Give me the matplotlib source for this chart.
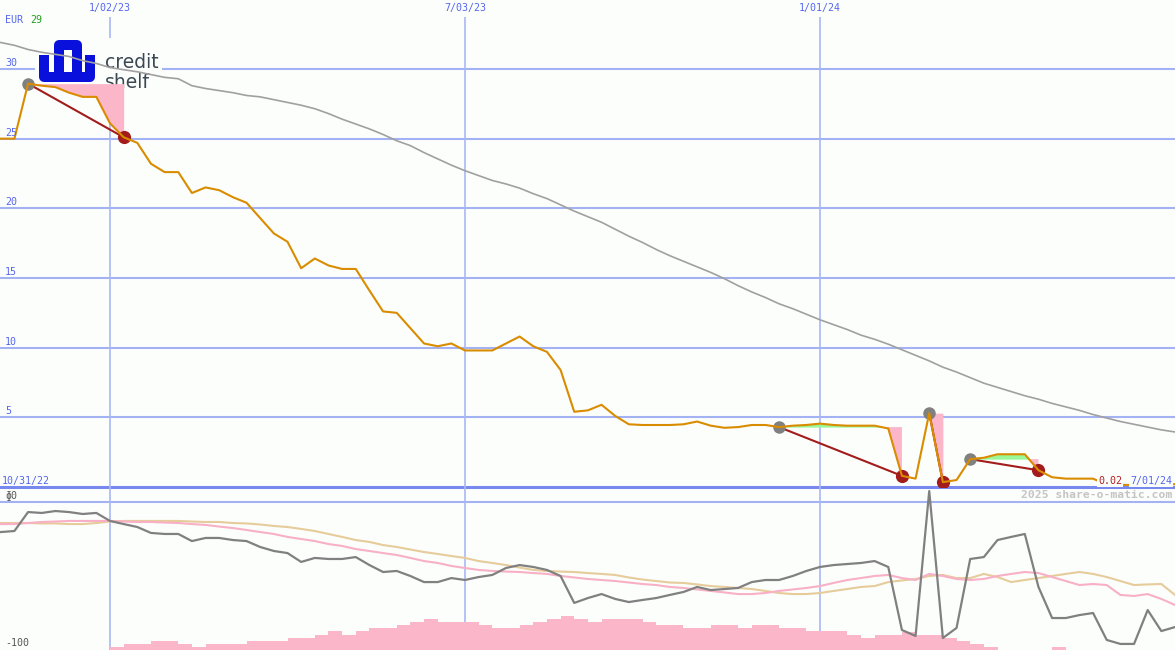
import matplotlib
matplotlib.use('Agg')
import matplotlib.pyplot as plt
import matplotlib.dates as mdates
import matplotlib.transforms as mtrans
from matplotlib.patches import Rectangle
from matplotlib.lines import Line2D
import numpy as np
import pandas as pd

W, H = 1175, 650

# ---------------- data ----------------
dates = pd.date_range('2022-10-31', periods=88, freq='7D')

price = [25, 25, 25, 28.95, 28.8, 28.7, 28.3, 28.0, 28.0, 26.1,
         25.1, 24.7, 23.2, 22.6, 22.6, 21.1, 21.5, 21.3, 20.8, 20.4,
         19.3, 18.2, 17.6, 15.7, 16.4, 15.9, 15.65, 15.65, 14.1, 12.6,
         12.5, 11.4, 10.3, 10.1, 10.3, 9.8, 9.8, 9.8, 10.3, 10.8,
         10.1, 9.7, 8.4, 5.4, 5.5, 5.9, 5.1, 4.5, 4.45, 4.45,
         4.45, 4.5, 4.7, 4.4, 4.25, 4.3, 4.45, 4.45, 4.3, 4.4,
         4.45, 4.55, 4.45, 4.4, 4.4, 4.4, 4.2, 0.8, 0.6, 5.3,
         0.35, 0.5, 2.0, 2.1, 2.35, 2.35, 2.35, 1.2, 0.7, 0.6,
         0.6, 0.6, 0.15, 0.15, 0.15, 0.2, 0.2, 0.2]

ma_long = [32.1, 31.9, 31.7, 31.4, 31.2, 31.05, 30.9, 30.6, 30.4, 30.1,
           29.95, 29.8, 29.6, 29.4, 29.3, 28.8, 28.6, 28.45, 28.3, 28.1,
           28.0, 27.8, 27.6, 27.4, 27.15, 26.8, 26.4, 26.05, 25.7, 25.3,
           24.85, 24.5, 24.0, 23.55, 23.1, 22.7, 22.35, 22.0, 21.75, 21.45,
           21.05, 20.7, 20.25, 19.8, 19.4, 19.0, 18.5, 18.0, 17.55, 17.05,
           16.6, 16.2, 15.8, 15.4, 14.95, 14.45, 14.0, 13.6, 13.15, 12.8,
           12.4, 12.0, 11.65, 11.3, 10.9, 10.6, 10.25, 9.85, 9.45, 9.05,
           8.6, 8.25, 7.85, 7.45, 7.15, 6.85, 6.55, 6.3, 6.0, 5.75,
           5.5, 5.2, 4.95, 4.7, 4.5, 4.3, 4.1, 3.95]

osc = [-20.3, -20.3, -19.6, -6.8, -7.4, -6.1, -6.8, -8.1, -7.4, -12.8,
       -14.9, -16.9, -20.9, -21.6, -21.6, -26.4, -24.3, -24.3, -25.7, -26.4,
       -30.4, -33.1, -34.5, -40.5, -37.8, -38.5, -38.5, -37.2, -42.6, -47.3,
       -46.6, -50.0, -54.1, -54.1, -51.4, -52.7, -50.7, -49.3, -44.6, -42.6,
       -43.9, -45.9, -50.0, -68.2, -64.9, -62.2, -65.5, -67.6, -66.2, -64.9,
       -62.8, -60.8, -57.4, -59.5, -58.8, -58.1, -54.1, -52.7, -52.7, -50.0,
       -46.6, -43.9, -42.6, -41.9, -41.2, -39.9, -43.9, -86.5, -90.5, 7.4,
       -91.9, -85.1, -38.5, -37.2, -25.7, -23.6, -21.6, -57.4, -78.4, -78.4,
       -76.4, -75.0, -93.2, -95.9, -95.9, -73.0, -87.2, -84.5]

osc_fast = [-14.9, -14.9, -14.9, -14.2, -13.5, -13.2, -12.8, -12.8, -12.8, -12.8,
            -13.2, -13.5, -13.5, -13.9, -14.2, -14.9, -15.5, -16.6, -17.6, -18.9,
            -20.3, -21.6, -23.6, -25.0, -26.4, -28.4, -29.7, -31.8, -33.1, -34.5,
            -35.8, -37.8, -39.9, -41.2, -43.2, -44.6, -45.9, -46.6, -47.0, -47.3,
            -48.0, -48.6, -50.0, -51.0, -52.0, -52.7, -53.4, -54.4, -55.4, -56.1,
            -57.4, -58.1, -59.1, -60.1, -61.1, -62.2, -62.2, -61.5, -60.1, -59.1,
            -58.1, -56.8, -54.7, -52.7, -51.4, -50.0, -49.3, -51.4, -52.7, -48.6,
            -50.0, -52.0, -52.7, -52.0, -50.0, -48.6, -47.3, -48.0, -50.7, -53.4,
            -56.1, -55.4, -56.1, -62.8, -63.5, -62.2, -65.5, -69.6]

osc_slow = [-14.2, -14.2, -14.2, -14.2, -14.5, -14.5, -14.9, -14.9, -14.2, -13.2,
            -12.8, -12.8, -12.8, -12.8, -12.8, -13.2, -13.5, -13.5, -14.2, -14.5,
            -15.2, -16.2, -16.9, -18.2, -19.6, -21.6, -23.6, -25.7, -27.0, -29.1,
            -30.4, -32.1, -33.8, -35.1, -36.5, -37.8, -39.9, -41.2, -42.6, -44.3,
            -45.9, -46.6, -47.0, -47.3, -48.0, -48.6, -49.3, -51.0, -52.4, -53.4,
            -54.4, -54.7, -55.7, -56.8, -57.4, -58.1, -58.8, -60.1, -61.5, -62.2,
            -62.2, -61.5, -60.1, -58.8, -57.4, -56.8, -54.1, -53.0, -52.0, -50.0,
            -49.3, -51.4, -51.4, -48.6, -50.7, -54.1, -52.7, -51.4, -50.0, -48.6,
            -47.3, -48.6, -50.7, -53.4, -56.1, -55.7, -55.4, -62.8]

volume = [0, 0, 0, 0, 0, 0, 0, 0, 0, 2.0,
          4.1, 4.1, 6.1, 6.1, 4.1, 2.0, 4.1, 4.1, 4.1, 6.1,
          6.1, 6.1, 8.1, 8.1, 10.1, 12.8, 10.1, 12.8, 14.9, 14.9,
          16.9, 18.9, 20.9, 18.9, 18.9, 18.9, 16.9, 14.9, 14.9, 16.9,
          18.9, 20.9, 23.0, 20.9, 18.9, 20.9, 20.9, 20.9, 18.9, 16.9,
          16.9, 14.9, 14.9, 16.9, 16.9, 14.9, 16.9, 16.9, 14.9, 14.9,
          12.8, 12.8, 12.8, 10.1, 8.1, 10.1, 10.1, 12.2, 10.1, 10.1,
          8.1, 6.1, 4.1, 2.0, 0, 0, 0, 0, 2.0, 0,
          0, 0, 0, 0, 0, 0, 0, 0]

signals = [(3, 10), (58, 67), (69, 70), (72, 77)]

grid_dates = ['2023-01-02', '2023-07-03', '2024-01-01']
grid_labels = ['1/02/23', '7/03/23', '1/01/24']
price_ticks = [5, 10, 15, 20, 25, 30]
price_tick_labels = ['5', '10', '15', '20', '25', '30']
start_label = '10/31/22'
end_label = '7/01/24'
last_label = '0.02'
currency = 'EUR'
currency_value = '29'

# ---------------- styling ----------------
BG = '#fcfefc'
GRID = '#a3b2f2'
VGRID = '#aab8f6'
AXIS = '#7788ee'
BLUE_TXT = '#5566ee'
ORANGE = '#d98c00'
GRAY_MA = '#a0a0a0'
PINK = '#fbb6ca'
GREEN = '#98f898'
DARKRED = '#a31c1c'
MONO = 'DejaVu Sans Mono'

x = mdates.date2num(dates)
gx = mdates.date2num(pd.to_datetime(grid_dates))
px_per_day = 355.0 / (gx[1] - gx[0])
x0 = gx[0] - 110.0 / px_per_day
x1 = gx[2] + (W - 820.0) / px_per_day

fig = plt.figure(figsize=(W / 100, H / 100), dpi=100)
fig.patch.set_facecolor(BG)

top_h = 487.0
ax = fig.add_axes([0, 1 - top_h / H, 1, top_h / H])
ax2 = fig.add_axes([0, 0, 1, (H - top_h) / H])
for a in (ax, ax2):
    a.set_facecolor('none')
    for s in a.spines.values():
        s.set_visible(False)
    a.set_xticks([])
    a.set_yticks([])
    a.set_xlim(x0, x1)

ppu = (487.0 - 69.0) / 30.0
ytop = top_h / ppu
ax.set_ylim(0, ytop)
lppu = (650.0 - 502.0) / 100.0
ax2.set_ylim(-100, (502.0 - 487.0) / lppu)

# grid
for v in price_ticks:
    ax.axhline(v, color=GRID, lw=1.5, zorder=1)
ax.axhline(0, color=AXIS, lw=2.2, zorder=1, clip_on=False)
ax2.axhline(0, color=GRID, lw=1.5, zorder=1)
ax.vlines(gx, 0, ytop - 17.0 / ppu, color=VGRID, lw=1.2, zorder=1)
for g in gx:
    ax2.axvline(g, color=VGRID, lw=1.2, zorder=1)

# logo (behind chart marks)
def fx(p):
    return p / W

def fy(p):
    return 1 - p / H

ax.add_patch(Rectangle((fx(35), fy(90)), fx(162) - fx(35), fy(38) - fy(90),
                       transform=fig.transFigure, facecolor=BG, edgecolor='none', zorder=1.5))
LOGO_BLUE = '#0a10dc'
lw_px = 10 * 72 / 100
for xs_, ys_ in [([44, 44, 90, 90], [55, 77, 77, 55]),
                 ([59, 59, 77, 77], [73, 45, 45, 73])]:
    ax.add_line(Line2D([fx(v) for v in xs_], [fy(v) for v in ys_], transform=fig.transFigure,
                       color=LOGO_BLUE, lw=lw_px, solid_joinstyle='round', solid_capstyle='butt',
                       zorder=1.6))
ax.text(fx(105), fy(68), 'credit', transform=fig.transFigure, fontsize=13.5, color='#3b4854',
        family='DejaVu Sans', va='baseline', ha='left', zorder=1.6)
ax.text(fx(105), fy(88), 'shelf', transform=fig.transFigure, fontsize=13.5, color='#3b4854',
        family='DejaVu Sans', va='baseline', ha='left', zorder=1.6)

# price panel marks
ax.plot(x, ma_long, color=GRAY_MA, lw=1.2, zorder=3)
pr = np.array(price)
for s, e in signals:
    xs = x[s:e + 1]
    ys = pr[s:e + 1]
    lev = pr[s]
    ax.fill_between(xs, ys, lev, where=ys <= lev, interpolate=True, color=PINK, lw=0, zorder=2)
    ax.fill_between(xs, ys, lev, where=ys >= lev, interpolate=True, color=GREEN, lw=0, zorder=2)
for s, e in signals:
    ax.plot([x[s], x[e]], [price[s], price[e]], color=DARKRED, lw=1.5, zorder=4)
    ax.plot([x[s]], [price[s]], 'o', color='#808080', ms=9, mec='none', zorder=5)
    ax.plot([x[e]], [price[e]], 'o', color=DARKRED, ms=9.5, mec='none', zorder=5)
ax.plot(x, price, color=ORANGE, lw=1.5, zorder=6)

# lower panel marks
ax2.bar(x, volume, width=7, align='edge', bottom=-100, color=PINK, lw=0, zorder=2)
ax2.plot(x, osc_slow, color='#e6cc9a', lw=1.5, zorder=3)
ax2.plot(x, osc_fast, color='#f8b0c6', lw=1.5, zorder=3)
ax2.plot(x, osc, color='#808080', lw=1.6, zorder=4)

# texts
tb = mtrans.blended_transform_factory(ax.transAxes, ax.transData)
for v, lab in zip(price_ticks, price_tick_labels):
    ax.text(5 / W, v + 1.0 / ppu, lab, transform=tb, fontsize=7.2, color=BLUE_TXT,
            family=MONO, va='bottom', ha='left', zorder=7)
tx = mtrans.blended_transform_factory(ax.transData, ax.transAxes)
for g, lab in zip(gx, grid_labels):
    ax.text(g, 1 - 3.0 / top_h, lab, transform=tx, fontsize=7.2, color=BLUE_TXT,
            family=MONO, va='top', ha='center', zorder=7)
ax.text(5 / W, 1 - 15.0 / top_h, currency, transform=ax.transAxes, fontsize=7.2,
        color=BLUE_TXT, family=MONO, va='top', ha='left', zorder=7)
ax.text(30 / W, 1 - 15.0 / top_h, currency_value, transform=ax.transAxes, fontsize=7.2,
        color='#22a022', family=MONO, va='top', ha='left', zorder=7)
ax.text(2 / W, 1.2 / ppu, start_label, transform=tb, fontsize=7.2, color=BLUE_TXT,
        family=MONO, va='bottom', ha='left', zorder=7)
bb = dict(facecolor=BG, edgecolor='none', pad=0.6)
ax.text(1 - 3 / W, 1.2 / ppu, end_label, transform=tb, fontsize=7.2, color=BLUE_TXT,
        family=MONO, va='bottom', ha='right', zorder=7, bbox=bb)
ax.text(1 - 53 / W, 1.2 / ppu, last_label, transform=tb, fontsize=7.2, color='#b02020',
        family=MONO, va='bottom', ha='right', zorder=7, bbox=bb)

tb2 = mtrans.blended_transform_factory(ax2.transAxes, ax2.transData)
ax2.text(1 - 3 / W, 7.0 / lppu, '2025 share-o-matic.com', transform=tb2, fontsize=8.2,
         color='#c4c4c4', family=MONO, weight='bold', va='center', ha='right', zorder=7)
ax2.text(5 / W, 1.0 / lppu, 'ɸ0', transform=tb2, fontsize=7.2, color='#555555',
         family=MONO, va='bottom', ha='left', zorder=7)
ax2.text(5 / W, -100 + 2.0 / lppu, '-100', transform=tb2, fontsize=7.2, color='#555555',
         family=MONO, va='bottom', ha='left', zorder=7)

fig.savefig('out.png', dpi=100, facecolor=BG)
